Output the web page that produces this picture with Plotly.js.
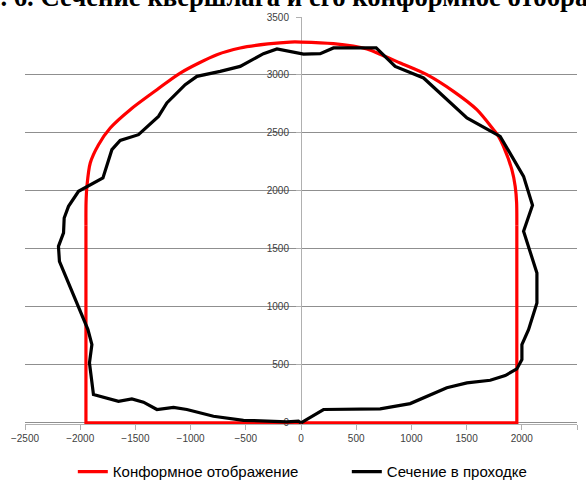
<!DOCTYPE html>
<html>
<head>
<meta charset="utf-8">
<script src="https://cdn.plot.ly/plotly-3.0.1.min.js"></script>
<style>html,body{margin:0;padding:0;background:#fff;}#chart{width:586px;height:482px;}</style>
</head>
<body>
<div id="chart"></div>
<script>
// Conformal mapping contour (red): arched roof and straight walls/floor
const conformArcX = [1955, 1953, 1940, 1910, 1834, 1789, 1744, 1593, 1381, 1140, 899, 747, 597, 294, 0, -98, -300, -551, -762, -1094, -1305, -1547, -1728, -1834, -1909, -1939, -1947, -1948];
const conformArcY = [1700, 1900, 2040, 2184, 2385, 2471, 2528, 2701, 2859, 3003, 3103, 3166, 3224, 3270, 3284, 3284, 3268, 3233, 3175, 3017, 2873, 2701, 2543, 2399, 2241, 2040, 1900, 1700];
const conformBaseX = [-1948, -1948, 1955, 1955];
const conformBaseY = [1700, 0, 0, 1700];

// Measured section (black)
const sectionX = [0, 204, 717, 989, 1321, 1503, 1714, 1850, 1955, 2001, 2001, 2061, 2137, 2137, 2016, 2097, 2016, 1804, 1503, 1321, 1110, 853, 717, 681, 294, 174, 23, -218, -340, -551, -732, -943, -1049, -1215, -1291, -1472, -1638, -1713, -1794, -2015, -2106, -2145, -2151, -2197, -2188, -2106, -2000, -1930, -1894, -1916, -1880, -1653, -1532, -1427, -1305, -1155, -1034, -793, -521, -128, -23, 0];
const sectionY = [0, 115, 120, 166, 302, 345, 367, 408, 465, 546, 675, 804, 1034, 1293, 1652, 1876, 2126, 2471, 2629, 2787, 2974, 3074, 3203, 3233, 3233, 3184, 3180, 3224, 3184, 3074, 3031, 2988, 2916, 2759, 2643, 2485, 2436, 2356, 2112, 1997, 1867, 1767, 1638, 1522, 1393, 1207, 977, 804, 675, 517, 244, 186, 207, 178, 115, 134, 115, 57, 22, 9, 14, 0];

const seriesNames = ["Конформное отображение", "Сечение в проходке"];
const titleText = "Рис. 6. Сечение квершлага и его конформное отображение";

const traces = [
  {x: conformArcX, y: conformArcY, name: seriesNames[0], legendgroup: 'c', mode: 'lines', type: 'scatter',
   line: {color: '#ff0000', width: 3.2, shape: 'spline', smoothing: 0.8}},
  {x: conformBaseX, y: conformBaseY, name: seriesNames[0], legendgroup: 'c', showlegend: false,
   mode: 'lines', type: 'scatter', line: {color: '#ff0000', width: 3.2}},
  {x: sectionX, y: sectionY, name: seriesNames[1], mode: 'lines', type: 'scatter',
   line: {color: '#000000', width: 3.2}}
];

const tickFont = {family: 'Liberation Sans, Arial, sans-serif', size: 10, color: '#404040'};

const layout = {
  width: 586, height: 482,
  margin: {l: 25, r: 9, t: 17.3, b: 57.5, pad: 0, autoexpand: false},
  paper_bgcolor: '#ffffff', plot_bgcolor: '#ffffff',
  title: {text: '<b>' + titleText + '</b>', x: 0.515, xanchor: 'center', xref: 'paper',
          y: 0.988, yref: 'container', yanchor: 'bottom',
          font: {family: 'Liberation Serif, Times New Roman, serif', size: 26.7, color: '#000'}},
  showlegend: true,
  legend: {orientation: 'h', x: 0.583, xanchor: 'center', xref: 'paper',
           y: 0.021, yref: 'container', yanchor: 'middle',
           entrywidth: 229, entrywidthmode: 'pixels', traceorder: 'normal',
           font: {family: 'Liberation Sans, Arial, sans-serif', size: 15, color: '#000'}},
  xaxis: {range: [-2500, 2500], dtick: 500, tick0: 0, showgrid: false, zeroline: false,
          showline: true, linecolor: '#b0b0b0', linewidth: 1, ticks: 'outside', ticklen: 5,
          tickcolor: '#b0b0b0', tickfont: tickFont, layer: 'below traces', fixedrange: true},
  yaxis: {range: [-10, 3500], tickvals: [0, 500, 1000, 1500, 2000, 2500, 3000, 3500],
          anchor: 'free', position: 0.5, showgrid: true, gridcolor: '#8f8f8f', gridwidth: 1,
          zeroline: false, showline: true, linecolor: '#b0b0b0', linewidth: 1,
          ticks: 'outside', ticklen: 5, tickcolor: '#b0b0b0', tickfont: tickFont,
          ticklabelstandoff: 5, layer: 'below traces', fixedrange: true}
};

Plotly.newPlot('chart', traces, layout, {displayModeBar: false, staticPlot: true});
</script>
</body>
</html>
